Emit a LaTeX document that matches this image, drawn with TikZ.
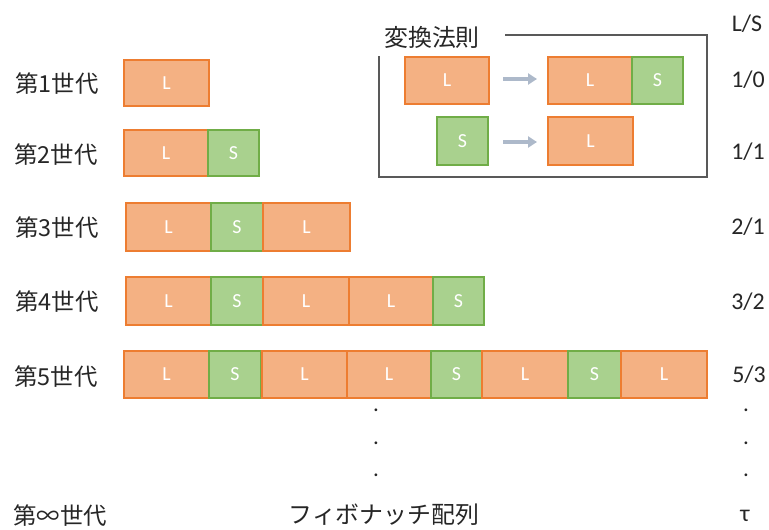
\documentclass[tikz,border=0pt]{standalone}
\usepackage{fontspec}
\setmainfont{Carlito}
\newfontfamily\jp{Noto Sans CJK JP}
\usetikzlibrary{arrows.meta}
\definecolor{Lfill}{HTML}{F4B183}
\definecolor{Ldraw}{HTML}{ED7D31}
\definecolor{Sfill}{HTML}{A9D18E}
\definecolor{Sdraw}{HTML}{70AD47}
\definecolor{arrc}{HTML}{ADB9CA}
\definecolor{txt}{HTML}{262626}
\definecolor{framec}{HTML}{595959}
\tikzset{
  cellbox/.style={draw, line width=1.3bp, inner sep=0pt, text=white, font=\fontsize{20}{20}\selectfont},
  Lcell/.style={cellbox, fill=Lfill, draw=Ldraw},
  Scell/.style={cellbox, fill=Sfill, draw=Sdraw},
  genlabel/.style={anchor=west, inner sep=0pt, text=txt, font=\jp\fontsize{23.5}{24}\selectfont},
  ratio/.style={inner sep=0pt, text=txt, font=\fontsize{24}{24}\selectfont},
  dotlabel/.style={inner sep=0pt, text=txt, font=\fontsize{23}{23}\selectfont},
  rulearrow/.style={arrc, line width=3.5bp, -{Triangle[length=9bp,width=11bp]}},
}
\newcommand\mkL[5]{\node[Lcell, minimum width={(#3-#2)*1bp}, minimum height={(#5-#4)*1bp}] (#1) at ({(#2+#3)/2},{(#4+#5)/2}) {L};}
\newcommand\mkS[5]{\node[Scell, minimum width={(#3-#2)*1bp}, minimum height={(#5-#4)*1bp}] (#1) at ({(#2+#3)/2},{(#4+#5)/2}) {S};}
\begin{document}
\begin{tikzpicture}[x=1bp,y=-1bp]
\useasboundingbox (0,0) rectangle (769,530);
% transformation rule frame
\draw[framec, line width=1.2bp] (379,35) rectangle (707,177);
\fill[white] (371,13) rectangle (505,56);
\node[anchor=west, inner sep=0pt, text=txt, font=\jp\fontsize{24}{24}\selectfont] (title) at (384,37) {変換法則};
\mkL{rA}{405}{489}{57}{104}
\mkL{rB}{548}{632}{57}{104}
\mkS{rC}{632}{683}{57}{104}
\mkS{rD}{437}{488}{117}{165}
\mkL{rE}{548}{633}{117}{165}
\coordinate (a1s) at (503,79);
\coordinate (a1e) at (537,79);
\coordinate (a2s) at (503,142);
\coordinate (a2e) at (537,142);
\draw[rulearrow] (a1s) -- (a1e);
\draw[rulearrow] (a2s) -- (a2e);
% generation labels
\node[genlabel] (g1) at (15,84) {第1世代};
\node[genlabel] (g2) at (14,155) {第2世代};
\node[genlabel] (g3) at (15,228) {第3世代};
\node[genlabel] (g4) at (15,302) {第4世代};
\node[genlabel] (g5) at (14,377) {第5世代};
\node[genlabel] (ginf) at (13,516) {第∞世代};
% generation 1
\mkL{a1}{124}{209}{60}{106}
% generation 2
\mkL{b1}{124}{208}{130}{176}
\mkS{b2}{208}{259}{130}{176}
% generation 3
\mkL{c1}{126}{211}{203}{251}
\mkS{c2}{211}{263}{203}{251}
\mkL{c3}{263}{350}{203}{251}
% generation 4
\mkL{d1}{126}{211}{277}{325}
\mkS{d2}{211}{263}{277}{325}
\mkL{d3}{263}{349}{277}{325}
\mkL{d4}{349}{433}{277}{325}
\mkS{d5}{433}{484}{277}{325}
% generation 5
\mkL{e1}{124}{209}{351}{398}
\mkS{e2}{209}{261}{351}{398}
\mkL{e3}{262}{347}{351}{398}
\mkL{e4}{347}{431}{351}{398}
\mkS{e5}{431}{482}{351}{398}
\mkL{e6}{482}{568}{351}{398}
\mkS{e7}{568}{621}{351}{398}
\mkL{e8}{621}{707}{351}{398}
% ratios
\node[ratio] (hdr) at (747,24) {L/S};
\node[ratio] (q1) at (748,80) {1/0};
\node[ratio] (q2) at (748,152) {1/1};
\node[ratio] (q3) at (748,227) {2/1};
\node[ratio] (q4) at (748,302) {3/2};
\node[ratio] (q5) at (749,375) {5/3};
% dots
\node[dotlabel] (m1) at (376,410) {.};
\node[dotlabel] (m2) at (376,443) {.};
\node[dotlabel] (m3) at (376,475) {.};
\node[dotlabel] (r1) at (746,410) {.};
\node[dotlabel] (r2) at (746,443) {.};
\node[dotlabel] (r3) at (746,475) {.};
% bottom
\node[inner sep=0pt, text=txt, font=\jp\fontsize{24}{24}\selectfont] (fib) at (384,515) {フィボナッチ配列};
\node[ratio] (tau) at (745,516) {τ};
\end{tikzpicture}
\end{document}
